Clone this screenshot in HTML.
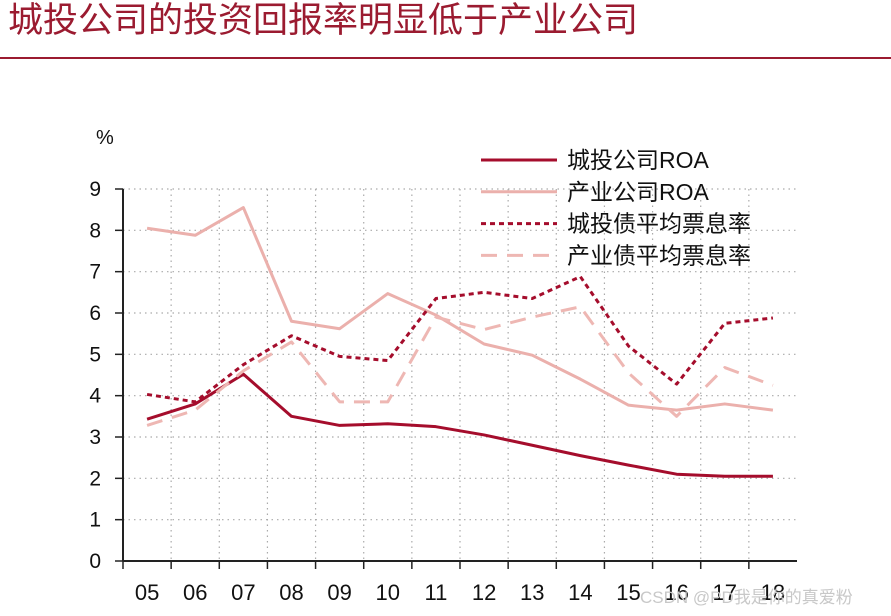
<!DOCTYPE html>
<html><head><meta charset="utf-8"><style>
body{margin:0;width:891px;height:616px;background:#fff;overflow:hidden;font-family:"Liberation Sans","Noto Sans CJK SC",sans-serif}
#title{position:absolute;left:8px;top:-2px;font-size:35px;color:#9b1b30;white-space:nowrap;line-height:46px}
#rule{position:absolute;left:0;top:57px;width:891px;height:2px;background:#9b1b30}
svg{position:absolute;left:0;top:0}
</style></head><body>
<div id="title">城投公司的投资回报率明显低于产业公司</div>
<div id="rule"></div>
<svg id="c" width="891" height="616"></svg>
<script>
const categories=["05","06","07","08","09","10","11","12","13","14","15","16","17","18"];
const yTicks=[0,1,2,3,4,5,6,7,8,9];
const cityRoa=[3.43,3.8,4.52,3.5,3.28,3.32,3.25,3.05,2.8,2.55,2.32,2.1,2.05,2.05];
const indRoa=[8.05,7.88,8.55,5.8,5.62,6.47,5.95,5.25,4.98,4.4,3.77,3.65,3.8,3.65];
const cityBond=[4.03,3.85,4.75,5.45,4.95,4.85,6.35,6.5,6.35,6.88,5.2,4.28,5.75,5.88];
const indBond=[3.28,3.65,4.6,5.3,3.85,3.85,5.9,5.6,5.9,6.15,4.55,3.5,4.68,4.25];
const seriesNames=["城投公司ROA","产业公司ROA","城投债平均票息率","产业债平均票息率"];
const svg=document.getElementById('c');const NS='http://www.w3.org/2000/svg';
const X0=123,X1=797,Y0=561,Y1=189;
const bw=(X1-X0)/categories.length;
const x=i=>X0+bw*(i+0.5);
const y=v=>Y0-(v/9)*(Y0-Y1);
function mk(t,a,p){const e=document.createElementNS(NS,t);for(const k in a)e.setAttribute(k,a[k]);(p||svg).appendChild(e);return e;}
yTicks.forEach(v=>{
 if(v>0){const g=mk('line',{x1:X0,x2:X1,y1:y(v),y2:y(v),stroke:'#aaa','stroke-width':1.2,'stroke-dasharray':'1.5 4'});
 
 }
 const t=mk('line',{x1:115,x2:X0,y1:y(v),y2:y(v),stroke:'#222','stroke-width':1.5});
 
 
 const l=mk('text',{x:101,y:y(v)+7,'text-anchor':'end','font-size':21,fill:'#111'});l.textContent=v;
 
 
});
categories.forEach((c,i)=>{
 const gx=X0+bw*i;
 if(i>0){const g=mk('line',{x1:gx,x2:gx,y1:Y1,y2:Y0,stroke:'#aaa','stroke-width':1.2,'stroke-dasharray':'1.5 4'});
 
 }
 const t=mk('line',{x1:gx,x2:gx,y1:Y0,y2:Y0+8,stroke:'#222','stroke-width':1.5});
 
 
 const l=mk('text',{x:x(i),y:600,'text-anchor':'middle','font-size':22,fill:'#111'});l.textContent=c;
 
 
});
const ya=mk('line',{x1:X0,x2:X0,y1:Y1,y2:Y0,stroke:'#222','stroke-width':2});


const xa=mk('line',{x1:X0,x2:X1,y1:Y0,y2:Y0,stroke:'#222','stroke-width':2});


const pct=mk('text',{x:96,y:144,'font-size':20,fill:'#111'});pct.textContent='%';


const styles=[{s:'#a50d2c',d:''},{s:'#ebb0ac',d:''},{s:'#a50d2c',d:'5 4'},{s:'#eeb7b3',d:'16 10'}];
[cityRoa,indRoa,cityBond,indBond].forEach((arr,k)=>{
 const p=mk('polyline',{points:arr.map((v,i)=>x(i)+','+y(v)).join(' '),fill:'none',stroke:styles[k].s,'stroke-width':3,'stroke-dasharray':styles[k].d,'stroke-linejoin':'round'});
 
 
 const ly=160+k*31.8;
 const ll=mk('line',{x1:481,x2:557,y1:ly,y2:ly,stroke:styles[k].s,'stroke-width':3,'stroke-dasharray':styles[k].d});
 
 
 const lt=mk('text',{x:567,y:ly+8,'font-size':23,fill:'#111'});lt.textContent=seriesNames[k];
 
 
});
const wm=mk('text',{x:640,y:603,'font-size':17,fill:'#c8c8c8'});wm.textContent='CSDN @PD我是你的真爱粉';


</script>
</body></html>
